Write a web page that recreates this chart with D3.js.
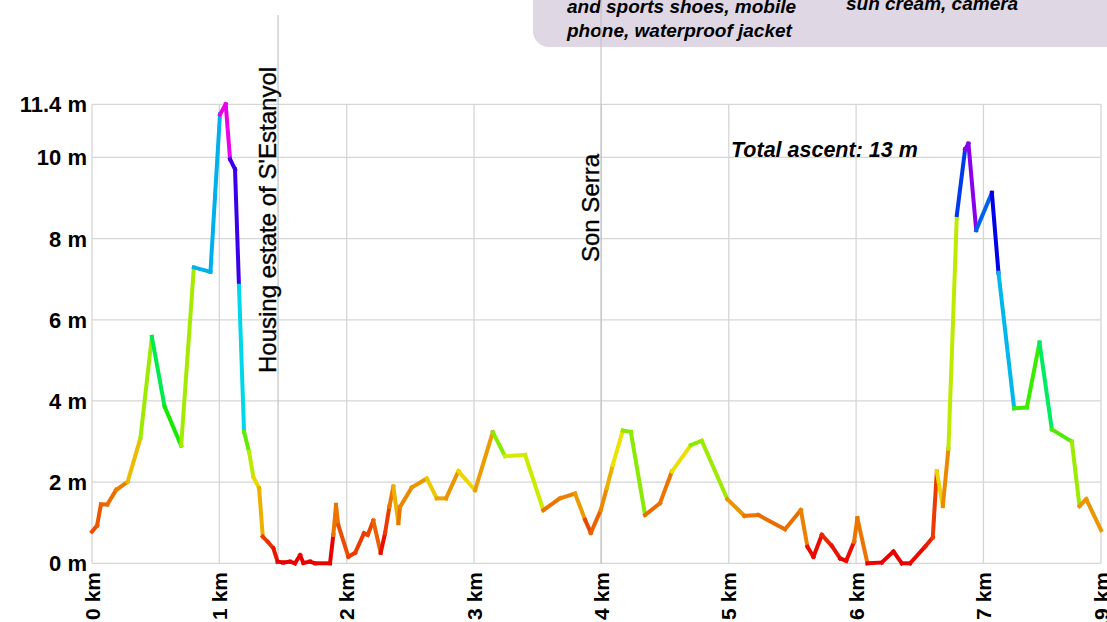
<!DOCTYPE html>
<html>
<head>
<meta charset="utf-8">
<script src="https://cdn.jsdelivr.net/npm/d3@7"></script>
<style>
  body { margin: 0; background: #fff; overflow: hidden; }
  svg { display: block; font-family: "Liberation Sans", Arial, sans-serif; }
</style>
</head>
<body>
<svg id="chart" width="1107" height="622"></svg>
<script>
// distance along the route (km)
const km = [
  0.00, 0.04, 0.07, 0.12, 0.19, 0.28, 0.38, 0.47, 0.57, 0.70,
  0.80, 0.93, 1.005, 1.05, 1.084, 1.123, 1.154, 1.194, 1.233, 1.267,
  1.312, 1.341, 1.38, 1.424, 1.458, 1.50, 1.555, 1.594, 1.634, 1.66,
  1.712, 1.751, 1.869, 1.895, 1.916, 1.934, 2.013, 2.066, 2.136, 2.165,
  2.209, 2.267, 2.301, 2.335, 2.366, 2.406, 2.419, 2.511, 2.629, 2.707,
  2.780, 2.877, 3.008, 3.147, 3.243, 3.401, 3.544, 3.675, 3.793, 3.872,
  3.917, 3.995, 4.042, 4.089, 4.168, 4.231, 4.343, 4.46, 4.553, 4.702,
  4.788, 4.989, 5.123, 5.233, 5.442, 5.566, 5.618, 5.665, 5.731, 5.809,
  5.875, 5.922, 5.984, 6.01, 6.089, 6.202, 6.293, 6.359, 6.424, 6.542,
  6.602, 6.634, 6.681, 6.725, 6.791, 6.856, 6.882, 6.943, 7.066, 7.118,
  7.241, 7.341, 7.44, 7.537, 7.694, 7.754, 7.807, 7.923
];

// elevation (m)
const elev = [
  0.78, 0.93, 1.45, 1.45, 1.81, 2.01, 3.08, 5.58, 3.86, 2.90,
  7.29, 7.18, 11.06, 11.31, 9.96, 9.71, 6.84, 3.24, 2.75, 2.13,
  1.85, 0.66, 0.53, 0.37, 0.04, 0.02, 0.04, 0.00, 0.20, 0.01,
  0.04, 0.00, 0.00, 0.70, 1.44, 0.94, 0.16, 0.26, 0.74, 0.70,
  1.05, 0.26, 0.74, 1.39, 1.89, 0.99, 1.39, 1.87, 2.09, 1.60,
  1.60, 2.27, 1.80, 3.23, 2.64, 2.67, 1.31, 1.60, 1.72, 1.07,
  0.75, 1.31, 1.85, 2.42, 3.27, 3.24, 1.19, 1.48, 2.26, 2.91,
  3.02, 1.58, 1.17, 1.19, 0.84, 1.31, 0.41, 0.16, 0.70, 0.43,
  0.12, 0.06, 0.53, 1.11, 0.00, 0.02, 0.29, 0.00, 0.00, 0.41,
  0.64, 2.26, 1.41, 2.83, 8.58, 10.20, 10.34, 8.21, 9.13, 7.16,
  3.82, 3.84, 5.44, 3.30, 3.00, 1.41, 1.58, 0.82
];

// colour hue of each segment (from point i to point i+1)
const segHue = [
  20, 22, 25, 28, 32, 48, 80, 140, 115, 78,
  195, 195, 300, 300, 255, 255, 185, 95, 72, 55,
  45, 15, 12, 5, 0, 0, 0, 0, 0, 0,
  0, 0, 0, 30, 30, 20, 15, 15, 15, 18,
  25, 3, 15, 30, 45, 30, 35, 38, 52, 42,
  38, 55, 40, 85, 65, 68, 30, 33, 40, 18,
  25, 35, 45, 58, 85, 85, 28, 30, 57, 85,
  80, 38, 30, 28, 28, 33, 3, 3, 10, 5,
  0, 3, 30, 30, 0, 0, 0, 0, 2, 8,
  15, 55, 35, 72, 225, 275, 275, 215, 240, 193,
  105, 105, 145, 100, 80, 38, 38
];

const xTicks = [0, 1, 2, 3, 4, 5, 6, 7, 7.923];
const xTickLabels = ["0 km", "1 km", "2 km", "3 km", "4 km", "5 km", "6 km", "7 km", "7.9 km"];
const yTicks = [0, 2, 4, 6, 8, 10, 11.31];
const yTickLabels = ["0 m", "2 m", "4 m", "6 m", "8 m", "10 m", "11.4 m"];

const markerKm = [1.461, 3.997];
const markerNames = ["Housing estate of S'Estanyol", "Son Serra"];

const boxLines = [
  {col: 0, line: 0, text: "and sports shoes, mobile"},
  {col: 0, line: 1, text: "phone, waterproof jacket"},
  {col: 1, line: 0, text: "sun cream, camera"}
];

const svg = d3.select("#chart");
const x = d3.scaleLinear().domain([0, 7.923]).range([92, 1101]);
const y = d3.scaleLinear().domain([0, 11.31]).range([563.3, 104.3]);

// grid
svg.append("g").selectAll("line").data(yTicks).enter().append("line")
  .attr("x1", 92).attr("x2", 1101)
  .attr("y1", d => y(d)).attr("y2", d => y(d))
  .style("stroke", "#d6d6d6").style("stroke-width", "1.3px");
svg.append("g").selectAll("line").data(xTicks).enter().append("line")
  .attr("x1", d => x(d)).attr("x2", d => x(d))
  .attr("y1", 104.3).attr("y2", 563.3)
  .style("stroke", "#d6d6d6").style("stroke-width", "1.3px");

// y labels
svg.append("g").selectAll("text").data(yTicks).enter().append("text")
  .attr("x", 87).attr("y", d => y(d)).attr("dy", "0.36em")
  .style("text-anchor", "end").style("font-size", "22px").style("font-weight", "bold")
  .text((d, i) => yTickLabels[i]);

// x labels
svg.append("g").selectAll("text").data(xTicks).enter().append("text")
  .attr("transform", d => "translate(" + x(d) + ",572) rotate(-90)")
  .attr("dy", "0.36em")
  .style("text-anchor", "end").style("font-size", "21px").style("font-weight", "bold")
  .text((d, i) => xTickLabels[i]);

// info box at the top
svg.append("rect")
  .attr("x", 533).attr("y", -60).attr("width", 700).attr("height", 107).attr("rx", 16)
  .style("fill", "#dfd7e4");
svg.append("g").selectAll("text").data(boxLines).enter().append("text")
  .attr("x", d => d.col === 0 ? 567 : 846)
  .attr("y", d => (d.col === 0 ? 13 : 10) + d.line * 24)
  .style("font-size", "19px").style("font-weight", "bold").style("font-style", "italic")
  .text(d => d.text);

// marker lines
svg.append("g").selectAll("line").data(markerKm).enter().append("line")
  .attr("x1", d => x(d)).attr("x2", d => x(d))
  .attr("y1", (d, i) => i === 0 ? 15 : 0).attr("y2", 563.3)
  .style("stroke", "#c4c4c4").style("stroke-width", "1.2px");
svg.append("g").selectAll("text").data(markerKm).enter().append("text")
  .attr("transform", (d, i) => "translate(" + (x(d) - 2.5) + "," + (i === 0 ? 373 : 262) + ") rotate(-90)")
  .style("font-size", "24px")
  .style("stroke", "#000").style("stroke-width", "0.35px")
  .text((d, i) => markerNames[i]);

// coloured elevation profile
const line = d3.line().x(d => x(d[0])).y(d => y(d[1]));
const segs = segHue.map((h, i) => ({h: h, pts: [[km[i], elev[i]], [km[i + 1], elev[i + 1]]]}));
svg.append("g").selectAll("path").data(segs).enter().append("path")
  .attr("d", d => line(d.pts))
  .style("fill", "none")
  .style("stroke", d => d3.hsl(d.h, 1, 0.46).toString())
  .style("stroke-width", "4px")
  .style("stroke-linecap", "square");

svg.append("text")
  .attr("x", 731).attr("y", 157)
  .style("font-size", "21.5px").style("font-weight", "bold").style("font-style", "italic")
  .text("Total ascent: 13 m");
</script>
</body>
</html>
